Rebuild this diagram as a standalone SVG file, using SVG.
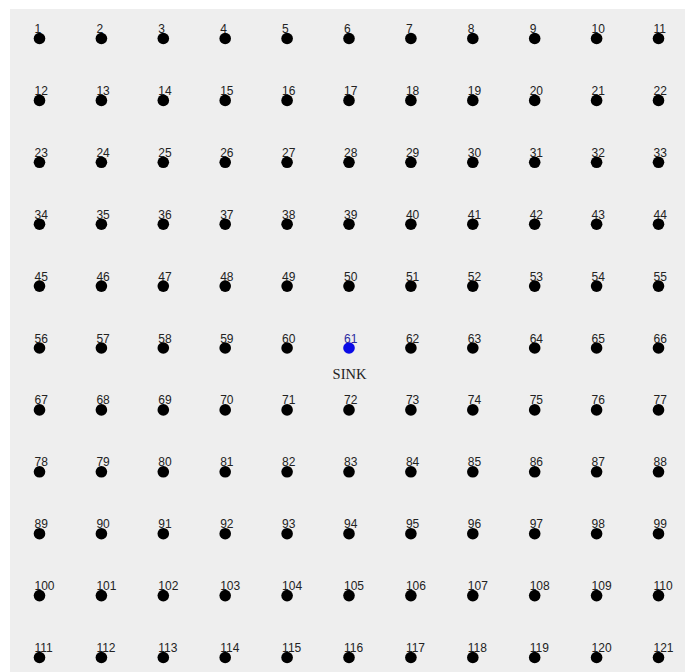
<svg xmlns="http://www.w3.org/2000/svg" width="685" height="672" viewBox="0 0 685 672">
<style>
.n{fill:#000}
.s{fill:#0a0ae6}
.l{font-family:"Liberation Sans",Arial,sans-serif;font-size:12px;fill:#222}
.ls{font-family:"Liberation Sans",Arial,sans-serif;font-size:12px;fill:#2a2aa0}
.t{font-family:"Liberation Serif","Times New Roman",serif;font-size:14.5px;fill:#222}
</style>
<rect x="0" y="0" width="685" height="672" fill="#fff"/>
<rect x="10" y="9" width="675" height="663" fill="#eeeeee"/>
<g id="connectors"></g>
<g id="nodes" transform="translate(-0.5,0.5)">
<g id="n1"><circle class="n" cx="40" cy="38" r="5.8"/><text class="l" x="35" y="32.5">1</text></g>
<g id="n2"><circle class="n" cx="101.9" cy="38" r="5.8"/><text class="l" x="96.9" y="32.5">2</text></g>
<g id="n3"><circle class="n" cx="163.8" cy="38" r="5.8"/><text class="l" x="158.8" y="32.5">3</text></g>
<g id="n4"><circle class="n" cx="225.7" cy="38" r="5.8"/><text class="l" x="220.7" y="32.5">4</text></g>
<g id="n5"><circle class="n" cx="287.6" cy="38" r="5.8"/><text class="l" x="282.6" y="32.5">5</text></g>
<g id="n6"><circle class="n" cx="349.5" cy="38" r="5.8"/><text class="l" x="344.5" y="32.5">6</text></g>
<g id="n7"><circle class="n" cx="411.4" cy="38" r="5.8"/><text class="l" x="406.4" y="32.5">7</text></g>
<g id="n8"><circle class="n" cx="473.3" cy="38" r="5.8"/><text class="l" x="468.3" y="32.5">8</text></g>
<g id="n9"><circle class="n" cx="535.2" cy="38" r="5.8"/><text class="l" x="530.2" y="32.5">9</text></g>
<g id="n10"><circle class="n" cx="597.1" cy="38" r="5.8"/><text class="l" x="592.1" y="32.5">10</text></g>
<g id="n11"><circle class="n" cx="659" cy="38" r="5.8"/><text class="l" x="654" y="32.5">11</text></g>
<g id="n12"><circle class="n" cx="40" cy="99.9" r="5.8"/><text class="l" x="35" y="94.4">12</text></g>
<g id="n13"><circle class="n" cx="101.9" cy="99.9" r="5.8"/><text class="l" x="96.9" y="94.4">13</text></g>
<g id="n14"><circle class="n" cx="163.8" cy="99.9" r="5.8"/><text class="l" x="158.8" y="94.4">14</text></g>
<g id="n15"><circle class="n" cx="225.7" cy="99.9" r="5.8"/><text class="l" x="220.7" y="94.4">15</text></g>
<g id="n16"><circle class="n" cx="287.6" cy="99.9" r="5.8"/><text class="l" x="282.6" y="94.4">16</text></g>
<g id="n17"><circle class="n" cx="349.5" cy="99.9" r="5.8"/><text class="l" x="344.5" y="94.4">17</text></g>
<g id="n18"><circle class="n" cx="411.4" cy="99.9" r="5.8"/><text class="l" x="406.4" y="94.4">18</text></g>
<g id="n19"><circle class="n" cx="473.3" cy="99.9" r="5.8"/><text class="l" x="468.3" y="94.4">19</text></g>
<g id="n20"><circle class="n" cx="535.2" cy="99.9" r="5.8"/><text class="l" x="530.2" y="94.4">20</text></g>
<g id="n21"><circle class="n" cx="597.1" cy="99.9" r="5.8"/><text class="l" x="592.1" y="94.4">21</text></g>
<g id="n22"><circle class="n" cx="659" cy="99.9" r="5.8"/><text class="l" x="654" y="94.4">22</text></g>
<g id="n23"><circle class="n" cx="40" cy="161.8" r="5.8"/><text class="l" x="35" y="156.3">23</text></g>
<g id="n24"><circle class="n" cx="101.9" cy="161.8" r="5.8"/><text class="l" x="96.9" y="156.3">24</text></g>
<g id="n25"><circle class="n" cx="163.8" cy="161.8" r="5.8"/><text class="l" x="158.8" y="156.3">25</text></g>
<g id="n26"><circle class="n" cx="225.7" cy="161.8" r="5.8"/><text class="l" x="220.7" y="156.3">26</text></g>
<g id="n27"><circle class="n" cx="287.6" cy="161.8" r="5.8"/><text class="l" x="282.6" y="156.3">27</text></g>
<g id="n28"><circle class="n" cx="349.5" cy="161.8" r="5.8"/><text class="l" x="344.5" y="156.3">28</text></g>
<g id="n29"><circle class="n" cx="411.4" cy="161.8" r="5.8"/><text class="l" x="406.4" y="156.3">29</text></g>
<g id="n30"><circle class="n" cx="473.3" cy="161.8" r="5.8"/><text class="l" x="468.3" y="156.3">30</text></g>
<g id="n31"><circle class="n" cx="535.2" cy="161.8" r="5.8"/><text class="l" x="530.2" y="156.3">31</text></g>
<g id="n32"><circle class="n" cx="597.1" cy="161.8" r="5.8"/><text class="l" x="592.1" y="156.3">32</text></g>
<g id="n33"><circle class="n" cx="659" cy="161.8" r="5.8"/><text class="l" x="654" y="156.3">33</text></g>
<g id="n34"><circle class="n" cx="40" cy="223.7" r="5.8"/><text class="l" x="35" y="218.2">34</text></g>
<g id="n35"><circle class="n" cx="101.9" cy="223.7" r="5.8"/><text class="l" x="96.9" y="218.2">35</text></g>
<g id="n36"><circle class="n" cx="163.8" cy="223.7" r="5.8"/><text class="l" x="158.8" y="218.2">36</text></g>
<g id="n37"><circle class="n" cx="225.7" cy="223.7" r="5.8"/><text class="l" x="220.7" y="218.2">37</text></g>
<g id="n38"><circle class="n" cx="287.6" cy="223.7" r="5.8"/><text class="l" x="282.6" y="218.2">38</text></g>
<g id="n39"><circle class="n" cx="349.5" cy="223.7" r="5.8"/><text class="l" x="344.5" y="218.2">39</text></g>
<g id="n40"><circle class="n" cx="411.4" cy="223.7" r="5.8"/><text class="l" x="406.4" y="218.2">40</text></g>
<g id="n41"><circle class="n" cx="473.3" cy="223.7" r="5.8"/><text class="l" x="468.3" y="218.2">41</text></g>
<g id="n42"><circle class="n" cx="535.2" cy="223.7" r="5.8"/><text class="l" x="530.2" y="218.2">42</text></g>
<g id="n43"><circle class="n" cx="597.1" cy="223.7" r="5.8"/><text class="l" x="592.1" y="218.2">43</text></g>
<g id="n44"><circle class="n" cx="659" cy="223.7" r="5.8"/><text class="l" x="654" y="218.2">44</text></g>
<g id="n45"><circle class="n" cx="40" cy="285.6" r="5.8"/><text class="l" x="35" y="280.1">45</text></g>
<g id="n46"><circle class="n" cx="101.9" cy="285.6" r="5.8"/><text class="l" x="96.9" y="280.1">46</text></g>
<g id="n47"><circle class="n" cx="163.8" cy="285.6" r="5.8"/><text class="l" x="158.8" y="280.1">47</text></g>
<g id="n48"><circle class="n" cx="225.7" cy="285.6" r="5.8"/><text class="l" x="220.7" y="280.1">48</text></g>
<g id="n49"><circle class="n" cx="287.6" cy="285.6" r="5.8"/><text class="l" x="282.6" y="280.1">49</text></g>
<g id="n50"><circle class="n" cx="349.5" cy="285.6" r="5.8"/><text class="l" x="344.5" y="280.1">50</text></g>
<g id="n51"><circle class="n" cx="411.4" cy="285.6" r="5.8"/><text class="l" x="406.4" y="280.1">51</text></g>
<g id="n52"><circle class="n" cx="473.3" cy="285.6" r="5.8"/><text class="l" x="468.3" y="280.1">52</text></g>
<g id="n53"><circle class="n" cx="535.2" cy="285.6" r="5.8"/><text class="l" x="530.2" y="280.1">53</text></g>
<g id="n54"><circle class="n" cx="597.1" cy="285.6" r="5.8"/><text class="l" x="592.1" y="280.1">54</text></g>
<g id="n55"><circle class="n" cx="659" cy="285.6" r="5.8"/><text class="l" x="654" y="280.1">55</text></g>
<g id="n56"><circle class="n" cx="40" cy="347.5" r="5.8"/><text class="l" x="35" y="342">56</text></g>
<g id="n57"><circle class="n" cx="101.9" cy="347.5" r="5.8"/><text class="l" x="96.9" y="342">57</text></g>
<g id="n58"><circle class="n" cx="163.8" cy="347.5" r="5.8"/><text class="l" x="158.8" y="342">58</text></g>
<g id="n59"><circle class="n" cx="225.7" cy="347.5" r="5.8"/><text class="l" x="220.7" y="342">59</text></g>
<g id="n60"><circle class="n" cx="287.6" cy="347.5" r="5.8"/><text class="l" x="282.6" y="342">60</text></g>
<g id="n61"><circle class="s" cx="349.5" cy="347.5" r="5.8"/><text class="ls" x="344.5" y="342">61</text><text class="t" x="350" y="378" text-anchor="middle">SINK</text></g>
<g id="n62"><circle class="n" cx="411.4" cy="347.5" r="5.8"/><text class="l" x="406.4" y="342">62</text></g>
<g id="n63"><circle class="n" cx="473.3" cy="347.5" r="5.8"/><text class="l" x="468.3" y="342">63</text></g>
<g id="n64"><circle class="n" cx="535.2" cy="347.5" r="5.8"/><text class="l" x="530.2" y="342">64</text></g>
<g id="n65"><circle class="n" cx="597.1" cy="347.5" r="5.8"/><text class="l" x="592.1" y="342">65</text></g>
<g id="n66"><circle class="n" cx="659" cy="347.5" r="5.8"/><text class="l" x="654" y="342">66</text></g>
<g id="n67"><circle class="n" cx="40" cy="409.4" r="5.8"/><text class="l" x="35" y="403.9">67</text></g>
<g id="n68"><circle class="n" cx="101.9" cy="409.4" r="5.8"/><text class="l" x="96.9" y="403.9">68</text></g>
<g id="n69"><circle class="n" cx="163.8" cy="409.4" r="5.8"/><text class="l" x="158.8" y="403.9">69</text></g>
<g id="n70"><circle class="n" cx="225.7" cy="409.4" r="5.8"/><text class="l" x="220.7" y="403.9">70</text></g>
<g id="n71"><circle class="n" cx="287.6" cy="409.4" r="5.8"/><text class="l" x="282.6" y="403.9">71</text></g>
<g id="n72"><circle class="n" cx="349.5" cy="409.4" r="5.8"/><text class="l" x="344.5" y="403.9">72</text></g>
<g id="n73"><circle class="n" cx="411.4" cy="409.4" r="5.8"/><text class="l" x="406.4" y="403.9">73</text></g>
<g id="n74"><circle class="n" cx="473.3" cy="409.4" r="5.8"/><text class="l" x="468.3" y="403.9">74</text></g>
<g id="n75"><circle class="n" cx="535.2" cy="409.4" r="5.8"/><text class="l" x="530.2" y="403.9">75</text></g>
<g id="n76"><circle class="n" cx="597.1" cy="409.4" r="5.8"/><text class="l" x="592.1" y="403.9">76</text></g>
<g id="n77"><circle class="n" cx="659" cy="409.4" r="5.8"/><text class="l" x="654" y="403.9">77</text></g>
<g id="n78"><circle class="n" cx="40" cy="471.3" r="5.8"/><text class="l" x="35" y="465.8">78</text></g>
<g id="n79"><circle class="n" cx="101.9" cy="471.3" r="5.8"/><text class="l" x="96.9" y="465.8">79</text></g>
<g id="n80"><circle class="n" cx="163.8" cy="471.3" r="5.8"/><text class="l" x="158.8" y="465.8">80</text></g>
<g id="n81"><circle class="n" cx="225.7" cy="471.3" r="5.8"/><text class="l" x="220.7" y="465.8">81</text></g>
<g id="n82"><circle class="n" cx="287.6" cy="471.3" r="5.8"/><text class="l" x="282.6" y="465.8">82</text></g>
<g id="n83"><circle class="n" cx="349.5" cy="471.3" r="5.8"/><text class="l" x="344.5" y="465.8">83</text></g>
<g id="n84"><circle class="n" cx="411.4" cy="471.3" r="5.8"/><text class="l" x="406.4" y="465.8">84</text></g>
<g id="n85"><circle class="n" cx="473.3" cy="471.3" r="5.8"/><text class="l" x="468.3" y="465.8">85</text></g>
<g id="n86"><circle class="n" cx="535.2" cy="471.3" r="5.8"/><text class="l" x="530.2" y="465.8">86</text></g>
<g id="n87"><circle class="n" cx="597.1" cy="471.3" r="5.8"/><text class="l" x="592.1" y="465.8">87</text></g>
<g id="n88"><circle class="n" cx="659" cy="471.3" r="5.8"/><text class="l" x="654" y="465.8">88</text></g>
<g id="n89"><circle class="n" cx="40" cy="533.2" r="5.8"/><text class="l" x="35" y="527.7">89</text></g>
<g id="n90"><circle class="n" cx="101.9" cy="533.2" r="5.8"/><text class="l" x="96.9" y="527.7">90</text></g>
<g id="n91"><circle class="n" cx="163.8" cy="533.2" r="5.8"/><text class="l" x="158.8" y="527.7">91</text></g>
<g id="n92"><circle class="n" cx="225.7" cy="533.2" r="5.8"/><text class="l" x="220.7" y="527.7">92</text></g>
<g id="n93"><circle class="n" cx="287.6" cy="533.2" r="5.8"/><text class="l" x="282.6" y="527.7">93</text></g>
<g id="n94"><circle class="n" cx="349.5" cy="533.2" r="5.8"/><text class="l" x="344.5" y="527.7">94</text></g>
<g id="n95"><circle class="n" cx="411.4" cy="533.2" r="5.8"/><text class="l" x="406.4" y="527.7">95</text></g>
<g id="n96"><circle class="n" cx="473.3" cy="533.2" r="5.8"/><text class="l" x="468.3" y="527.7">96</text></g>
<g id="n97"><circle class="n" cx="535.2" cy="533.2" r="5.8"/><text class="l" x="530.2" y="527.7">97</text></g>
<g id="n98"><circle class="n" cx="597.1" cy="533.2" r="5.8"/><text class="l" x="592.1" y="527.7">98</text></g>
<g id="n99"><circle class="n" cx="659" cy="533.2" r="5.8"/><text class="l" x="654" y="527.7">99</text></g>
<g id="n100"><circle class="n" cx="40" cy="595.1" r="5.8"/><text class="l" x="35" y="589.6">100</text></g>
<g id="n101"><circle class="n" cx="101.9" cy="595.1" r="5.8"/><text class="l" x="96.9" y="589.6">101</text></g>
<g id="n102"><circle class="n" cx="163.8" cy="595.1" r="5.8"/><text class="l" x="158.8" y="589.6">102</text></g>
<g id="n103"><circle class="n" cx="225.7" cy="595.1" r="5.8"/><text class="l" x="220.7" y="589.6">103</text></g>
<g id="n104"><circle class="n" cx="287.6" cy="595.1" r="5.8"/><text class="l" x="282.6" y="589.6">104</text></g>
<g id="n105"><circle class="n" cx="349.5" cy="595.1" r="5.8"/><text class="l" x="344.5" y="589.6">105</text></g>
<g id="n106"><circle class="n" cx="411.4" cy="595.1" r="5.8"/><text class="l" x="406.4" y="589.6">106</text></g>
<g id="n107"><circle class="n" cx="473.3" cy="595.1" r="5.8"/><text class="l" x="468.3" y="589.6">107</text></g>
<g id="n108"><circle class="n" cx="535.2" cy="595.1" r="5.8"/><text class="l" x="530.2" y="589.6">108</text></g>
<g id="n109"><circle class="n" cx="597.1" cy="595.1" r="5.8"/><text class="l" x="592.1" y="589.6">109</text></g>
<g id="n110"><circle class="n" cx="659" cy="595.1" r="5.8"/><text class="l" x="654" y="589.6">110</text></g>
<g id="n111"><circle class="n" cx="40" cy="657" r="5.8"/><text class="l" x="35" y="651.5">111</text></g>
<g id="n112"><circle class="n" cx="101.9" cy="657" r="5.8"/><text class="l" x="96.9" y="651.5">112</text></g>
<g id="n113"><circle class="n" cx="163.8" cy="657" r="5.8"/><text class="l" x="158.8" y="651.5">113</text></g>
<g id="n114"><circle class="n" cx="225.7" cy="657" r="5.8"/><text class="l" x="220.7" y="651.5">114</text></g>
<g id="n115"><circle class="n" cx="287.6" cy="657" r="5.8"/><text class="l" x="282.6" y="651.5">115</text></g>
<g id="n116"><circle class="n" cx="349.5" cy="657" r="5.8"/><text class="l" x="344.5" y="651.5">116</text></g>
<g id="n117"><circle class="n" cx="411.4" cy="657" r="5.8"/><text class="l" x="406.4" y="651.5">117</text></g>
<g id="n118"><circle class="n" cx="473.3" cy="657" r="5.8"/><text class="l" x="468.3" y="651.5">118</text></g>
<g id="n119"><circle class="n" cx="535.2" cy="657" r="5.8"/><text class="l" x="530.2" y="651.5">119</text></g>
<g id="n120"><circle class="n" cx="597.1" cy="657" r="5.8"/><text class="l" x="592.1" y="651.5">120</text></g>
<g id="n121"><circle class="n" cx="659" cy="657" r="5.8"/><text class="l" x="654" y="651.5">121</text></g>
</g>
</svg>
